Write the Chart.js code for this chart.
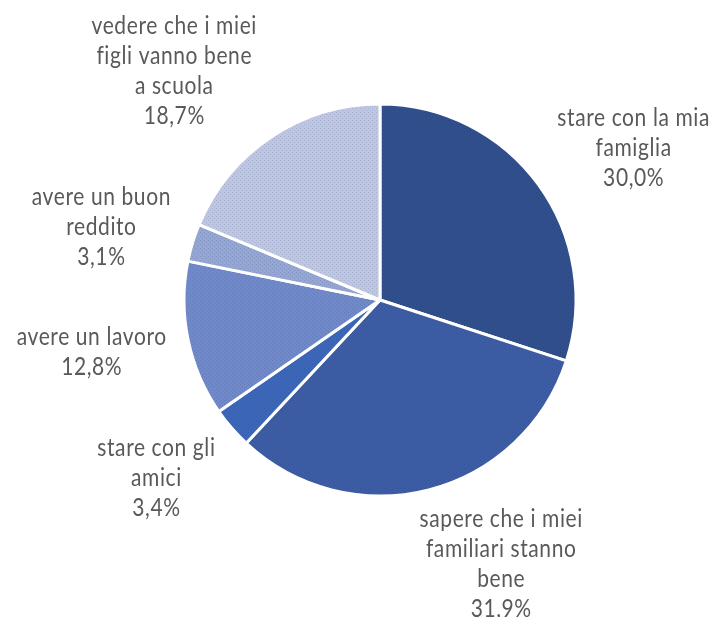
<!DOCTYPE html>
<html>
<head>
<meta charset="utf-8">
<script src="https://cdn.jsdelivr.net/npm/chart.js@4/dist/chart.umd.min.js"></script>
<style>
  html, body { margin: 0; padding: 0; background: #fff; }
  #wrap { width: 719px; height: 617px; position: relative; }
</style>
</head>
<body>
<div id="wrap"><canvas id="chart"></canvas></div>
<script>
// Slices, clockwise from 12 o'clock
const categories = [
  ['stare con la mia', 'famiglia'],
  ['sapere che i miei', 'familiari stanno', 'bene'],
  ['stare con gli', 'amici'],
  ['avere un lavoro'],
  ['avere un buon', 'reddito'],
  ['vedere che i miei', 'figli vanno bene', 'a scuola']
];
const values = [30.0, 31.9, 3.4, 12.8, 3.1, 18.7];
const valueLabels = ['30,0%', '31,9%', '3,4%', '12,8%', '3,1%', '18,7%'];
const sliceColors = ['#2f4f8f', '#3b5da7', '#3a67bb', '#6f89cc', '#93a6d6', '#bdc7e5'];

// label nudges from the plain radial spot (Excel "best fit" look)
const labelNudge = [[22, 16], [50, -13], [-7, -9], [-8, -6], [-5, 11], [-47, 9]];

// fine dotted texture like the original fills
function dotted(color) {
  const c = document.createElement('canvas');
  c.width = 4; c.height = 4;
  const g = c.getContext('2d');
  g.fillStyle = color;
  g.fillRect(0, 0, 4, 4);
  g.fillStyle = 'rgba(0,0,0,0.10)';
  g.fillRect(0, 0, 1, 1);
  g.fillRect(2, 2, 1, 1);
  return g.createPattern(c, 'repeat');
}

const outsideLabels = {
  id: 'outsideLabels',
  afterDatasetsDraw(chart) {
    const ctx = chart.ctx;
    const meta = chart.getDatasetMeta(0);
    const sy = 1.22;
    const lineH = 30;
    ctx.save();
    ctx.font = '21px Lato, Calibri, sans-serif';
    ctx.letterSpacing = '0.6px';
    ctx.fillStyle = '#595959';
    ctx.textAlign = 'center';
    ctx.textBaseline = 'middle';
    meta.data.forEach((arc, i) => {
      const mid = (arc.startAngle + arc.endAngle) / 2;
      const dist = arc.outerRadius * 1.46;
      const cx = arc.x + Math.cos(mid) * dist + labelNudge[i][0];
      const cy = arc.y + Math.sin(mid) * dist + labelNudge[i][1];
      const lines = categories[i].concat([valueLabels[i]]);
      const top = cy - (lines.length - 1) * lineH / 2;
      lines.forEach((t, k) => {
        ctx.save();
        ctx.translate(cx, top + k * lineH);
        ctx.scale(1, sy);
        ctx.fillText(t, 0, 0);
        ctx.restore();
      });
    });
    ctx.restore();
  }
};

new Chart(document.getElementById('chart'), {
  type: 'pie',
  data: {
    labels: categories.map(c => c.join(' ')),
    datasets: [{
      data: values,
      backgroundColor: sliceColors.map(dotted),
      borderColor: '#ffffff',
      borderWidth: 3
    }]
  },
  options: {
    responsive: true,
    maintainAspectRatio: false,
    animation: false,
    radius: 196,
    layout: { padding: { left: 180.5, right: 139.5, top: 100.5, bottom: 117.5 } },
    plugins: {
      legend: { display: false },
      tooltip: { enabled: false }
    }
  },
  plugins: [outsideLabels]
});
</script>
</body>
</html>
